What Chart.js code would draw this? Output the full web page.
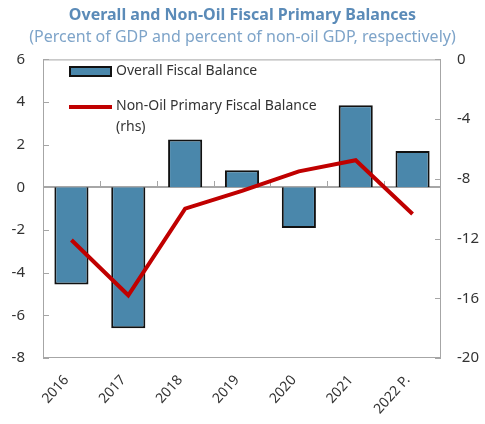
<!DOCTYPE html>
<html lang="en">
<head>
  <meta charset="UTF-8" />
  <title>Overall and Non-Oil Fiscal Primary Balances</title>
  <script src="https://cdn.jsdelivr.net/npm/chart.js"></script>
  <style>
    html, body {
      margin: 0;
      padding: 0;
      background: #fff;
    }
    .chart-box {
      width: 485px;
      height: 424px;
    }
  </style>
</head>
<body>
  <div class="chart-box">
    <canvas id="balanceChart" width="485" height="424"></canvas>
  </div>

  <script>
    const years = ["2016", "2017", "2018", "2019", "2020", "2021", "2022 P."];
    const overallBalance = [-4.55, -6.6, 2.25, 0.8, -1.9, 3.85, 1.7];
    const nonOilPrimary = [-12.1, -15.8, -10.0, -8.8, -7.5, -6.75, -10.35];
    const leftTicks = [-8, -6, -4, -2, 0, 2, 4, 6];
    const rightTicks = [-20, -16, -12, -8, -4, 0];

    const FONT = "'Noto Sans', 'Open Sans', sans-serif";
    const AXIS_GRAY = "#a6a6a6";

    // frame, zero line and inward tick marks
    const frame = {
      id: "frame",
      beforeDatasetsDraw(chart) {
        const { ctx, chartArea: a, scales } = chart;
        const y = scales.y, y1 = scales.y1, x = scales.x;
        ctx.save();
        ctx.strokeStyle = AXIS_GRAY;
        ctx.lineWidth = 1;
        ctx.strokeRect(a.left + 0.5, a.top + 0.5, a.right - a.left - 1, a.bottom - a.top - 1);

        ctx.beginPath();
        leftTicks.forEach(v => {
          const py = Math.round(y.getPixelForValue(v)) + 0.5;
          ctx.moveTo(a.left, py);
          ctx.lineTo(a.left + 6, py);
        });
        rightTicks.forEach(v => {
          const py = Math.round(y1.getPixelForValue(v)) + 0.5;
          ctx.moveTo(a.right - 6, py);
          ctx.lineTo(a.right, py);
        });
        const zero = Math.round(y.getPixelForValue(0));
        for (let i = 1; i < years.length; i++) {
          const px = Math.round((x.getPixelForValue(i - 1) + x.getPixelForValue(i)) / 2) + 0.5;
          ctx.moveTo(px, zero);
          ctx.lineTo(px, zero - 6);
        }
        ctx.stroke();

        ctx.lineWidth = 2;
        ctx.beginPath();
        ctx.moveTo(a.left, zero);
        ctx.lineTo(a.right, zero);
        ctx.stroke();
        ctx.restore();
      }
    };

    // legend drawn inside the plot, top-left
    const innerLegend = {
      id: "innerLegend",
      afterDraw(chart) {
        const { ctx } = chart;
        const bar = chart.data.datasets[0], line = chart.data.datasets[1];
        ctx.save();
        ctx.font = "14px " + FONT;
        ctx.textBaseline = "middle";

        ctx.fillStyle = bar.backgroundColor;
        ctx.fillRect(70, 67, 41, 9);
        ctx.strokeStyle = "#111";
        ctx.lineWidth = 2;
        ctx.strokeRect(70, 67, 41, 9);
        ctx.fillStyle = "#333";
        ctx.fillText(bar.label, 116, 71);

        ctx.strokeStyle = line.borderColor;
        ctx.lineWidth = 4;
        ctx.beginPath();
        ctx.moveTo(69, 107);
        ctx.lineTo(112, 107);
        ctx.stroke();
        ctx.fillText(line.label, 116, 106);
        ctx.fillText("(rhs)", 116, 127);
        ctx.restore();
      }
    };

    new Chart(document.getElementById("balanceChart"), {
      data: {
        labels: years,
        datasets: [
          {
            type: "bar",
            label: "Overall Fiscal Balance",
            data: overallBalance,
            backgroundColor: "#4a87ab",
            borderColor: "#111",
            borderWidth: 2,
            barPercentage: 0.6,
            categoryPercentage: 1,
            yAxisID: "y",
            order: 2
          },
          {
            type: "line",
            label: "Non-Oil Primary Fiscal Balance",
            data: nonOilPrimary,
            borderColor: "#c00000",
            borderWidth: 4,
            pointRadius: 0,
            tension: 0,
            yAxisID: "y1",
            order: 1
          }
        ]
      },
      options: {
        responsive: false,
        animation: false,
        layout: { padding: { left: 0, right: 0, top: 0, bottom: 0 } },
        plugins: {
          legend: { display: false },
          tooltip: { enabled: false },
          title: {
            display: true,
            text: "Overall and Non-Oil Fiscal Primary Balances",
            color: "#5b8bb8",
            font: { family: FONT, size: 16, weight: "bold" },
            padding: { top: 6, bottom: 3 }
          },
          subtitle: {
            display: true,
            text: "(Percent of GDP and percent of non-oil GDP, respectively)",
            color: "#7ea4c9",
            font: { family: FONT, size: 16 },
            padding: { top: 0, bottom: 12 }
          }
        },
        scales: {
          x: {
            offset: true,
            grid: { display: false, drawTicks: false },
            border: { display: false },
            ticks: {
              color: "#333",
              font: { family: FONT, size: 14 },
              maxRotation: 48,
              minRotation: 48,
              padding: 14,
              labelOffset: -5
            },
            afterFit(scale) { scale.height = 66; }
          },
          y: {
            position: "left",
            min: -8,
            max: 6,
            grid: { display: false, drawTicks: false },
            border: { display: false },
            afterBuildTicks(scale) { scale.ticks = leftTicks.map(v => ({ value: v })); },
            ticks: {
              color: "#333",
              font: { family: FONT, size: 15 },
              padding: 18
            },
            afterFit(scale) { scale.width = 43; }
          },
          y1: {
            position: "right",
            min: -20,
            max: 0,
            grid: { display: false, drawTicks: false },
            border: { display: false },
            afterBuildTicks(scale) { scale.ticks = rightTicks.map(v => ({ value: v })); },
            ticks: {
              color: "#333",
              font: { family: FONT, size: 15 },
              padding: 16
            },
            afterFit(scale) { scale.width = 44; }
          }
        }
      },
      plugins: [frame, innerLegend]
    });
  </script>
</body>
</html>
